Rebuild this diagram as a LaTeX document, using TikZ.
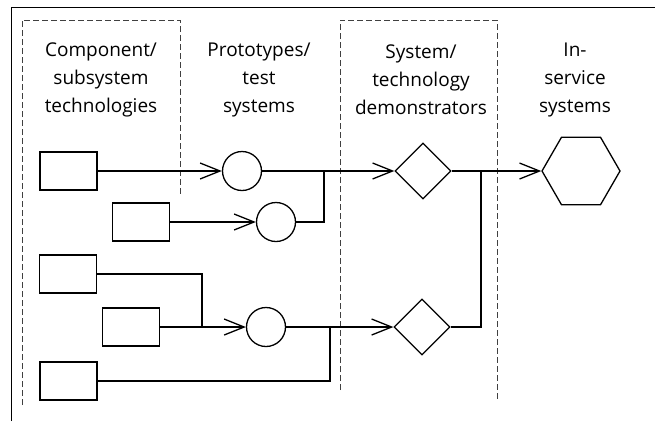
\documentclass[tikz,border=0pt]{standalone}
\usepackage{fontspec}
\setmainfont{Open Sans}
\usetikzlibrary{arrows.meta,shapes.geometric}
\begin{document}
\begin{tikzpicture}[x=1pt,y=-1pt,
  lw/.style={line width=1.3pt},
  techbox/.style={draw,lw,minimum width=57pt,minimum height=38pt,inner sep=0pt},
  proto/.style={draw,lw,circle,minimum size=39pt,inner sep=0pt},
  demo/.style={draw,lw,diamond,minimum width=56pt,minimum height=56pt,inner sep=0pt},
  service/.style={draw,lw,regular polygon,regular polygon sides=6,minimum size=78pt,inner sep=0pt},
  arr/.style={lw,-{Straight Barb[length=20pt,width=16pt,line width=1.3pt]}},
  conn/.style={lw},
  zone/.style={line width=0.7pt,black!75,dash pattern=on 6pt off 3pt},
  head/.style={align=center,font=\fontsize{19}{28}\selectfont}]
\useasboundingbox (0,0) rectangle (655,421);
% outer frame
\draw[line width=1pt] (11,421) -- (11,7) -- (655,7);
% dashed zones
\draw[zone] (22,405) -- (22,20) -- (180,20) -- (180,195);
\draw[zone] (340,390) -- (340,20) -- (497,20) -- (497,400);
% headings
\node[head] (h1) at (101,80) {Component/\\subsystem\\technologies};
\node[head] (h2) at (259,80) {Prototypes/\\test\\systems};
\node[head] (h3) at (421,80) {System/\\technology\\demonstrators};
\node[head] (h4) at (575,80) {In-\\service\\systems};
% shapes
\node[techbox] (R1) at (68.5,171) {};
\node[techbox] (R2) at (141,222) {};
\node[techbox] (R3) at (68,274) {};
\node[techbox] (R4) at (131,327) {};
\node[techbox] (R5) at (68.5,381) {};
\node[proto] (C1) at (242,171) {};
\node[proto] (C2) at (276,222) {};
\node[proto] (C3) at (266,327) {};
\node[demo] (D1) at (423,171) {};
\node[demo] (D2) at (422,327) {};
\node[service] (H) at (581,171) {};
% junctions
\coordinate (j1) at (324,171);
\coordinate (j2) at (202,327);
\coordinate (j3) at (330,327);
\coordinate (j4) at (481,171);
% connectors
\draw[arr] (R1.east) -- (C1.west);
\draw[arr] (R2.east) -- (C2.west);
\draw[arr] (C1.east) -- (D1.west);
\draw[conn] (C2.east) -| (j1);
\draw[conn] (R3.east) -| (j2);
\draw[arr] (R4.east) -- (C3.west);
\draw[arr] (C3.east) -- (D2.west);
\draw[conn] (R5.east) -| (j3);
\draw[conn] (D1.east) -- (j4);
\draw[conn] (D2.east) -| (j4);
\draw[arr] (j4) -- (H.west);
\end{tikzpicture}
\end{document}
